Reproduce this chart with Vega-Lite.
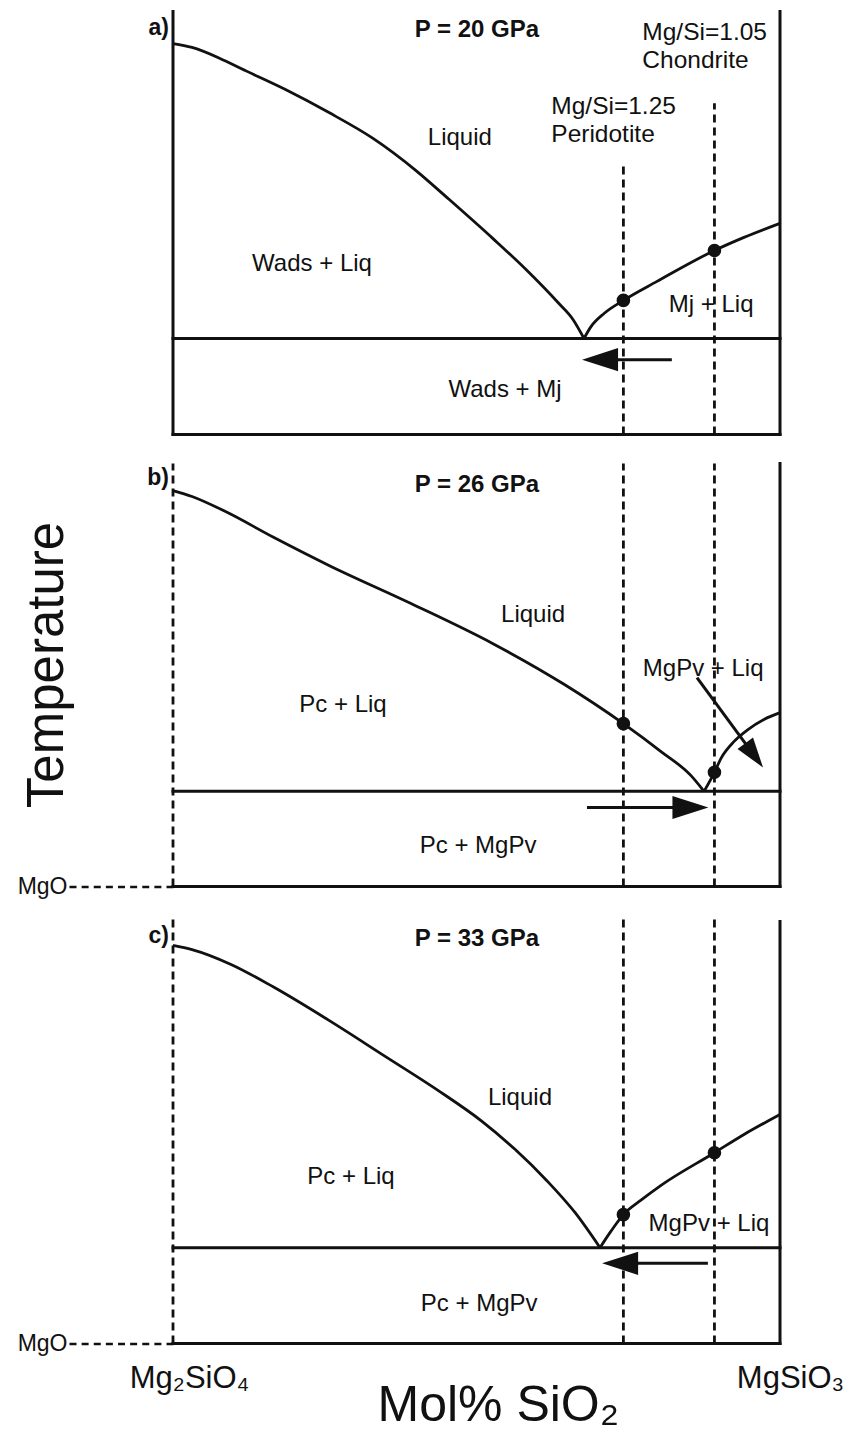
{
  "$schema": "https://vega.github.io/schema/vega-lite/v6.json",
  "background": "white",
  "padding": {"left": 17, "top": 8.5, "right": 2, "bottom": 0},
  "config": {
    "view": {"stroke": null},
    "font": "Liberation Sans",
    "text": {"font": "Liberation Sans", "color": "#111111"}
  },
  "datasets": {
    "frame": [
      {"panel": "a", "style": "solid", "x": 33.333, "x2": 33.333, "y": 0, "y2": 100},
      {"panel": "a", "style": "solid", "x": 50, "x2": 50, "y": 0, "y2": 100},
      {"panel": "a", "style": "solid", "x": 33.333, "x2": 50, "y": 0, "y2": 0},
      {"panel": "a", "style": "solid", "x": 33.333, "x2": 50, "y": 22.7, "y2": 22.7},
      {"panel": "a", "style": "dashed", "x": 45.7, "x2": 45.7, "y": 0, "y2": 63.4},
      {"panel": "a", "style": "dashed", "x": 48.2, "x2": 48.2, "y": 0, "y2": 78.3},
      {"panel": "b", "style": "solid", "x": 50, "x2": 50, "y": 0, "y2": 100},
      {"panel": "b", "style": "solid", "x": 33.333, "x2": 50, "y": 0, "y2": 0},
      {"panel": "b", "style": "solid", "x": 33.333, "x2": 50, "y": 22.5, "y2": 22.5},
      {"panel": "b", "style": "dashed", "x": 33.333, "x2": 33.333, "y": 0, "y2": 100},
      {"panel": "b", "style": "dashed", "x": 45.7, "x2": 45.7, "y": 0, "y2": 100},
      {"panel": "b", "style": "dashed", "x": 48.2, "x2": 48.2, "y": 0, "y2": 100},
      {"panel": "c", "style": "solid", "x": 50, "x2": 50, "y": 0, "y2": 99.5},
      {"panel": "c", "style": "solid", "x": 33.333, "x2": 50, "y": 0, "y2": 0},
      {"panel": "c", "style": "solid", "x": 33.333, "x2": 50, "y": 22.6, "y2": 22.6},
      {"panel": "c", "style": "dashed", "x": 33.333, "x2": 33.333, "y": 0, "y2": 100},
      {"panel": "c", "style": "dashed", "x": 45.7, "x2": 45.7, "y": 0, "y2": 100},
      {"panel": "c", "style": "dashed", "x": 48.2, "x2": 48.2, "y": 0, "y2": 100}
    ],
    "liquidus": [
      {"panel": "a", "branch": "low-silica", "x": 33.333, "y": 92.4},
      {"panel": "a", "branch": "low-silica", "x": 33.855, "y": 91.5},
      {"panel": "a", "branch": "low-silica", "x": 34.624, "y": 88.9},
      {"panel": "a", "branch": "low-silica", "x": 35.2, "y": 86.5},
      {"panel": "a", "branch": "low-silica", "x": 36.408, "y": 81.6},
      {"panel": "a", "branch": "low-silica", "x": 37.616, "y": 76.1},
      {"panel": "a", "branch": "low-silica", "x": 38.825, "y": 70.0},
      {"panel": "a", "branch": "low-silica", "x": 40.005, "y": 62.4},
      {"panel": "a", "branch": "low-silica", "x": 40.911, "y": 55.6},
      {"panel": "a", "branch": "low-silica", "x": 42.12, "y": 46.3},
      {"panel": "a", "branch": "low-silica", "x": 43.026, "y": 39.0},
      {"panel": "a", "branch": "low-silica", "x": 43.904, "y": 31.2},
      {"panel": "a", "branch": "low-silica", "x": 44.316, "y": 27.2},
      {"panel": "a", "branch": "low-silica", "x": 44.618, "y": 22.7},
      {"panel": "a", "branch": "high-silica", "x": 44.618, "y": 22.7},
      {"panel": "a", "branch": "high-silica", "x": 44.81, "y": 25.5},
      {"panel": "a", "branch": "high-silica", "x": 45.168, "y": 28.6},
      {"panel": "a", "branch": "high-silica", "x": 45.7, "y": 31.7},
      {"panel": "a", "branch": "high-silica", "x": 46.623, "y": 36.2},
      {"panel": "a", "branch": "high-silica", "x": 48.2, "y": 43.5},
      {"panel": "a", "branch": "high-silica", "x": 49.012, "y": 46.6},
      {"panel": "a", "branch": "high-silica", "x": 50, "y": 49.9},
      {"panel": "b", "branch": "low-silica", "x": 33.333, "y": 93.6},
      {"panel": "b", "branch": "low-silica", "x": 33.855, "y": 92.2},
      {"panel": "b", "branch": "low-silica", "x": 34.761, "y": 88.7},
      {"panel": "b", "branch": "low-silica", "x": 36.106, "y": 82.5},
      {"panel": "b", "branch": "low-silica", "x": 37.616, "y": 75.9},
      {"panel": "b", "branch": "low-silica", "x": 39.868, "y": 66.9},
      {"panel": "b", "branch": "low-silica", "x": 42.12, "y": 57.4},
      {"panel": "b", "branch": "low-silica", "x": 44.07, "y": 47.8},
      {"panel": "b", "branch": "low-silica", "x": 45.7, "y": 38.5},
      {"panel": "b", "branch": "low-silica", "x": 46.733, "y": 31.9},
      {"panel": "b", "branch": "low-silica", "x": 47.557, "y": 26.2},
      {"panel": "b", "branch": "low-silica", "x": 47.914, "y": 22.5},
      {"panel": "b", "branch": "high-silica", "x": 47.914, "y": 22.5},
      {"panel": "b", "branch": "high-silica", "x": 48.2, "y": 27.0},
      {"panel": "b", "branch": "high-silica", "x": 48.38, "y": 30.3},
      {"panel": "b", "branch": "high-silica", "x": 48.74, "y": 34.3},
      {"panel": "b", "branch": "high-silica", "x": 49.12, "y": 37.1},
      {"panel": "b", "branch": "high-silica", "x": 49.56, "y": 39.5},
      {"panel": "b", "branch": "high-silica", "x": 50, "y": 41.1},
      {"panel": "c", "branch": "low-silica", "x": 33.333, "y": 93.9},
      {"panel": "c", "branch": "low-silica", "x": 33.855, "y": 92.9},
      {"panel": "c", "branch": "low-silica", "x": 34.926, "y": 89.4},
      {"panel": "c", "branch": "low-silica", "x": 36.106, "y": 84.0},
      {"panel": "c", "branch": "low-silica", "x": 37.616, "y": 76.2},
      {"panel": "c", "branch": "low-silica", "x": 39.126, "y": 67.9},
      {"panel": "c", "branch": "low-silica", "x": 40.609, "y": 59.7},
      {"panel": "c", "branch": "low-silica", "x": 41.817, "y": 52.4},
      {"panel": "c", "branch": "low-silica", "x": 42.723, "y": 45.8},
      {"panel": "c", "branch": "low-silica", "x": 43.6, "y": 38.4},
      {"panel": "c", "branch": "low-silica", "x": 44.37, "y": 30.9},
      {"panel": "c", "branch": "low-silica", "x": 45.058, "y": 22.6},
      {"panel": "c", "branch": "high-silica", "x": 45.058, "y": 22.6},
      {"panel": "c", "branch": "high-silica", "x": 45.36, "y": 26.5},
      {"panel": "c", "branch": "high-silica", "x": 45.7, "y": 30.4},
      {"panel": "c", "branch": "high-silica", "x": 46.183, "y": 33.8},
      {"panel": "c", "branch": "high-silica", "x": 46.733, "y": 37.3},
      {"panel": "c", "branch": "high-silica", "x": 48.2, "y": 45.0},
      {"panel": "c", "branch": "high-silica", "x": 49.012, "y": 49.3},
      {"panel": "c", "branch": "high-silica", "x": 50, "y": 54.0}
    ],
    "bulk": [
      {"panel": "a", "x": 45.7, "y": 31.7},
      {"panel": "a", "x": 48.2, "y": 43.5},
      {"panel": "b", "x": 45.7, "y": 38.5},
      {"panel": "b", "x": 48.2, "y": 27.0},
      {"panel": "c", "x": 45.7, "y": 30.4},
      {"panel": "c", "x": 48.2, "y": 45.0}
    ],
    "shafts": [
      {"panel": "a", "x": 47.03, "x2": 45.5, "y": 17.7, "y2": 17.7},
      {"panel": "b", "x": 44.7, "x2": 47.3, "y": 18.7, "y2": 18.7},
      {"panel": "b", "x": 47.72, "x2": 49.29, "y": 49.4, "y2": 31.0},
      {"panel": "c", "x": 48.02, "x2": 46.0, "y": 18.9, "y2": 18.9}
    ],
    "heads": [
      {"panel": "a", "dir": "left", "x": 45.06, "y": 17.7},
      {"panel": "b", "dir": "right", "x": 47.54, "y": 18.7},
      {"panel": "b", "dir": "diag", "x": 49.29, "y": 31.0},
      {"panel": "c", "dir": "left", "x": 45.61, "y": 18.9}
    ],
    "labels": [
      {"panel": "a", "kind": "region", "x": 41.21, "y": 70.0, "label": "Liquid"},
      {"panel": "a", "kind": "region", "x": 37.15, "y": 40.4, "label": "Wads + Liq"},
      {"panel": "a", "kind": "region", "x": 48.11, "y": 30.7, "label": "Mj + Liq"},
      {"panel": "a", "kind": "region", "x": 42.45, "y": 10.6, "label": "Wads + Mj"},
      {"panel": "a", "kind": "bulk", "x": 43.72, "y": 77.5, "label": "Mg/Si=1.25"},
      {"panel": "a", "kind": "bulk", "x": 43.72, "y": 70.9, "label": "Peridotite"},
      {"panel": "a", "kind": "bulk", "x": 46.22, "y": 94.8, "label": "Mg/Si=1.05"},
      {"panel": "a", "kind": "bulk", "x": 46.22, "y": 88.2, "label": "Chondrite"},
      {"panel": "a", "kind": "pressure", "x": 41.68, "y": 95.7, "label": "P = 20 GPa"},
      {"panel": "a", "kind": "tag", "x": 33.333, "y": 96.0, "label": "a)"},
      {"panel": "b", "kind": "region", "x": 43.22, "y": 64.3, "label": "Liquid"},
      {"panel": "b", "kind": "region", "x": 47.89, "y": 51.5, "label": "MgPv + Liq"},
      {"panel": "b", "kind": "region", "x": 38.0, "y": 43.0, "label": "Pc + Liq"},
      {"panel": "b", "kind": "region", "x": 41.71, "y": 9.5, "label": "Pc + MgPv"},
      {"panel": "b", "kind": "pressure", "x": 41.68, "y": 95.0, "label": "P = 26 GPa"},
      {"panel": "b", "kind": "tag", "x": 33.333, "y": 96.5, "label": "b)"},
      {"panel": "c", "kind": "region", "x": 42.86, "y": 58.0, "label": "Liquid"},
      {"panel": "c", "kind": "region", "x": 38.22, "y": 39.2, "label": "Pc + Liq"},
      {"panel": "c", "kind": "region", "x": 48.05, "y": 28.1, "label": "MgPv + Liq"},
      {"panel": "c", "kind": "region", "x": 41.74, "y": 9.2, "label": "Pc + MgPv"},
      {"panel": "c", "kind": "pressure", "x": 41.68, "y": 95.5, "label": "P = 33 GPa"},
      {"panel": "c", "kind": "tag", "x": 33.333, "y": 96.0, "label": "c)"}
    ]
  },
  "spacing": 29,
  "bounds": "flush",
  "vconcat": [
    {
      "width": 607,
      "height": 423,
      "encoding": {
        "x": {"field": "x", "type": "quantitative", "scale": {"domain": [33.333, 50], "nice": false, "zero": false}, "axis": null},
        "y": {"field": "y", "type": "quantitative", "scale": {"domain": [0, 100], "nice": false, "zero": false}, "axis": null}
      },
      "layer": [
        {"data": {"name": "frame"}, "transform": [{"filter": "datum.panel == 'a' && datum.style == 'solid'"}],
         "mark": {"type": "rule", "color": "#111111", "strokeWidth": 3, "strokeCap": "square"},
         "encoding": {"x2": {"field": "x2"}, "y2": {"field": "y2"}}},
        {"data": {"name": "frame"}, "transform": [{"filter": "datum.panel == 'a' && datum.style == 'dashed'"}],
         "mark": {"type": "rule", "color": "#111111", "strokeWidth": 2.8, "strokeDash": [8, 5]},
         "encoding": {"x2": {"field": "x2"}, "y2": {"field": "y2"}}},
        {"data": {"name": "liquidus"}, "transform": [{"filter": "datum.panel == 'a'"}],
         "mark": {"type": "line", "color": "#111111", "strokeWidth": 2.8, "strokeJoin": "round", "interpolate": "monotone"},
         "encoding": {"detail": {"field": "branch"}}},
        {"data": {"name": "bulk"}, "transform": [{"filter": "datum.panel == 'a'"}],
         "mark": {"type": "point", "shape": "circle", "filled": true, "color": "#111111", "opacity": 1, "size": 185}},
        {"data": {"name": "shafts"}, "transform": [{"filter": "datum.panel == 'a'"}],
         "mark": {"type": "rule", "color": "#111111", "strokeWidth": 3},
         "encoding": {"x2": {"field": "x2"}, "y2": {"field": "y2"}}},
        {"data": {"name": "heads"}, "transform": [{"filter": "datum.panel == 'a' && datum.dir != 'diag'"}],
         "mark": {"type": "point", "shape": "M 1 0 L -1 -0.64 L -1 0.64 Z", "filled": true, "color": "#111111", "opacity": 1, "size": 1296},
         "encoding": {"angle": {"field": "dir", "type": "nominal", "scale": {"domain": ["right", "left"], "range": [0, 180]}, "legend": null}}},
        {"data": {"name": "labels"}, "transform": [{"filter": "datum.panel == 'a' && datum.kind == 'region'"}],
         "mark": {"type": "text", "fontSize": 24, "align": "center", "baseline": "middle"},
         "encoding": {"text": {"field": "label"}}},
        {"data": {"name": "labels"}, "transform": [{"filter": "datum.panel == 'a' && datum.kind == 'bulk'"}],
         "mark": {"type": "text", "fontSize": 24.5, "align": "left", "baseline": "middle"},
         "encoding": {"text": {"field": "label"}}},
        {"data": {"name": "labels"}, "transform": [{"filter": "datum.panel == 'a' && datum.kind == 'pressure'"}],
         "mark": {"type": "text", "fontSize": 24, "fontWeight": "bold", "align": "center", "baseline": "middle"},
         "encoding": {"text": {"field": "label"}}},
        {"data": {"name": "labels"}, "transform": [{"filter": "datum.panel == 'a' && datum.kind == 'tag'"}],
         "mark": {"type": "text", "fontSize": 23, "fontWeight": "bold", "align": "right", "baseline": "middle", "dx": -4},
         "encoding": {"text": {"field": "label"}}}
      ]
    },
    {
      "spacing": 33,
      "bounds": "flush",
      "vconcat": [
        {
          "width": 607,
          "height": 423,
          "encoding": {
            "x": {"field": "x", "type": "quantitative", "scale": {"domain": [33.333, 50], "nice": false, "zero": false}, "axis": null},
            "y": {"field": "y", "type": "quantitative", "scale": {"domain": [0, 100], "nice": false, "zero": false},
                  "axis": {"values": [0], "labelExpr": "'MgO'", "domain": false, "grid": false,
                           "tickSize": 104, "tickDash": [7, 5.125], "tickWidth": 2.6, "tickColor": "#111111",
                           "labelFont": "Liberation Sans", "labelFontSize": 23, "labelPadding": 2, "labelColor": "#111111",
                           "title": "Temperature", "titleFont": "Liberation Sans", "titleFontSize": 51, "titleFontWeight": "normal",
                           "titleColor": "#111111", "titleAngle": -90, "titleAlign": "center", "titleBaseline": "alphabetic",
                           "titleX": -111, "titleY": 201}}
          },
          "layer": [
            {"data": {"name": "frame"}, "transform": [{"filter": "datum.panel == 'b' && datum.style == 'solid'"}],
             "mark": {"type": "rule", "color": "#111111", "strokeWidth": 3, "strokeCap": "square"},
             "encoding": {"x2": {"field": "x2"}, "y2": {"field": "y2"}}},
            {"data": {"name": "frame"}, "transform": [{"filter": "datum.panel == 'b' && datum.style == 'dashed'"}],
             "mark": {"type": "rule", "color": "#111111", "strokeWidth": 2.8, "strokeDash": [8, 5]},
             "encoding": {"x2": {"field": "x2"}, "y2": {"field": "y2"}}},
            {"data": {"name": "liquidus"}, "transform": [{"filter": "datum.panel == 'b'"}],
             "mark": {"type": "line", "color": "#111111", "strokeWidth": 2.8, "strokeJoin": "round", "interpolate": "monotone"},
             "encoding": {"detail": {"field": "branch"}}},
            {"data": {"name": "bulk"}, "transform": [{"filter": "datum.panel == 'b'"}],
             "mark": {"type": "point", "shape": "circle", "filled": true, "color": "#111111", "opacity": 1, "size": 185}},
            {"data": {"name": "shafts"}, "transform": [{"filter": "datum.panel == 'b'"}],
             "mark": {"type": "rule", "color": "#111111", "strokeWidth": 3},
             "encoding": {"x2": {"field": "x2"}, "y2": {"field": "y2"}}},
            {"data": {"name": "heads"}, "transform": [{"filter": "datum.panel == 'b' && datum.dir != 'diag'"}],
             "mark": {"type": "point", "shape": "M 1 0 L -1 -0.64 L -1 0.64 Z", "filled": true, "color": "#111111", "opacity": 1, "size": 1296},
             "encoding": {"angle": {"field": "dir", "type": "nominal", "scale": {"domain": ["right", "left"], "range": [0, 180]}, "legend": null}}},
            {"data": {"name": "heads"}, "transform": [{"filter": "datum.panel == 'b' && datum.dir == 'diag'"}],
             "mark": {"type": "point", "shape": "M 1 0 L -1 -0.64 L -1 0.64 Z", "filled": true, "color": "#111111", "opacity": 1, "size": 900, "angle": 53.7}},
            {"data": {"name": "labels"}, "transform": [{"filter": "datum.panel == 'b' && datum.kind == 'region'"}],
             "mark": {"type": "text", "fontSize": 24, "align": "center", "baseline": "middle"},
             "encoding": {"text": {"field": "label"}}},
            {"data": {"name": "labels"}, "transform": [{"filter": "datum.panel == 'b' && datum.kind == 'pressure'"}],
             "mark": {"type": "text", "fontSize": 24, "fontWeight": "bold", "align": "center", "baseline": "middle"},
             "encoding": {"text": {"field": "label"}}},
            {"data": {"name": "labels"}, "transform": [{"filter": "datum.panel == 'b' && datum.kind == 'tag'"}],
             "mark": {"type": "text", "fontSize": 23, "fontWeight": "bold", "align": "right", "baseline": "middle", "dx": -4},
             "encoding": {"text": {"field": "label"}}}
          ]
        },
        {
          "width": 607,
          "height": 424,
          "encoding": {
            "x": {"field": "x", "type": "quantitative", "scale": {"domain": [33.333, 50], "nice": false, "zero": false},
                  "axis": {"values": [33.333, 50], "labelExpr": "datum.value < 40 ? 'Mg₂SiO₄' : 'MgSiO₃'",
                           "domain": false, "grid": false, "ticks": false, "tickSize": 0,
                           "labelFont": "Liberation Sans", "labelFontSize": 31, "labelColor": "#111111",
                           "labelPadding": 20,
                           "labelOffset": {"condition": {"test": "datum.value < 40", "value": 16}, "value": 10},
                           "labelFlush": false, "labelOverlap": false,
                           "title": "Mol% SiO₂", "titleFont": "Liberation Sans", "titleFontSize": 50, "titleFontWeight": "normal",
                           "titleColor": "#111111", "titleAlign": "left", "titleBaseline": "alphabetic",
                           "titleX": 204, "titleY": 77}},
            "y": {"field": "y", "type": "quantitative", "scale": {"domain": [0, 100], "nice": false, "zero": false},
                  "axis": {"values": [0], "labelExpr": "'MgO'", "domain": false, "grid": false,
                           "tickSize": 104, "tickDash": [7, 5.125], "tickWidth": 2.6, "tickColor": "#111111",
                           "labelFont": "Liberation Sans", "labelFontSize": 23, "labelPadding": 2, "labelColor": "#111111",
                           "title": null}}
          },
          "layer": [
            {"data": {"name": "frame"}, "transform": [{"filter": "datum.panel == 'c' && datum.style == 'solid'"}],
             "mark": {"type": "rule", "color": "#111111", "strokeWidth": 3, "strokeCap": "square"},
             "encoding": {"x2": {"field": "x2"}, "y2": {"field": "y2"}}},
            {"data": {"name": "frame"}, "transform": [{"filter": "datum.panel == 'c' && datum.style == 'dashed'"}],
             "mark": {"type": "rule", "color": "#111111", "strokeWidth": 2.8, "strokeDash": [8, 5]},
             "encoding": {"x2": {"field": "x2"}, "y2": {"field": "y2"}}},
            {"data": {"name": "liquidus"}, "transform": [{"filter": "datum.panel == 'c'"}],
             "mark": {"type": "line", "color": "#111111", "strokeWidth": 2.8, "strokeJoin": "round", "interpolate": "monotone"},
             "encoding": {"detail": {"field": "branch"}}},
            {"data": {"name": "bulk"}, "transform": [{"filter": "datum.panel == 'c'"}],
             "mark": {"type": "point", "shape": "circle", "filled": true, "color": "#111111", "opacity": 1, "size": 185}},
            {"data": {"name": "shafts"}, "transform": [{"filter": "datum.panel == 'c'"}],
             "mark": {"type": "rule", "color": "#111111", "strokeWidth": 3},
             "encoding": {"x2": {"field": "x2"}, "y2": {"field": "y2"}}},
            {"data": {"name": "heads"}, "transform": [{"filter": "datum.panel == 'c' && datum.dir != 'diag'"}],
             "mark": {"type": "point", "shape": "M 1 0 L -1 -0.64 L -1 0.64 Z", "filled": true, "color": "#111111", "opacity": 1, "size": 1296},
             "encoding": {"angle": {"field": "dir", "type": "nominal", "scale": {"domain": ["right", "left"], "range": [0, 180]}, "legend": null}}},
            {"data": {"name": "labels"}, "transform": [{"filter": "datum.panel == 'c' && datum.kind == 'region'"}],
             "mark": {"type": "text", "fontSize": 24, "align": "center", "baseline": "middle"},
             "encoding": {"text": {"field": "label"}}},
            {"data": {"name": "labels"}, "transform": [{"filter": "datum.panel == 'c' && datum.kind == 'pressure'"}],
             "mark": {"type": "text", "fontSize": 24, "fontWeight": "bold", "align": "center", "baseline": "middle"},
             "encoding": {"text": {"field": "label"}}},
            {"data": {"name": "labels"}, "transform": [{"filter": "datum.panel == 'c' && datum.kind == 'tag'"}],
             "mark": {"type": "text", "fontSize": 23, "fontWeight": "bold", "align": "right", "baseline": "middle", "dx": -4},
             "encoding": {"text": {"field": "label"}}}
          ]
        }
      ]
    }
  ]
}
